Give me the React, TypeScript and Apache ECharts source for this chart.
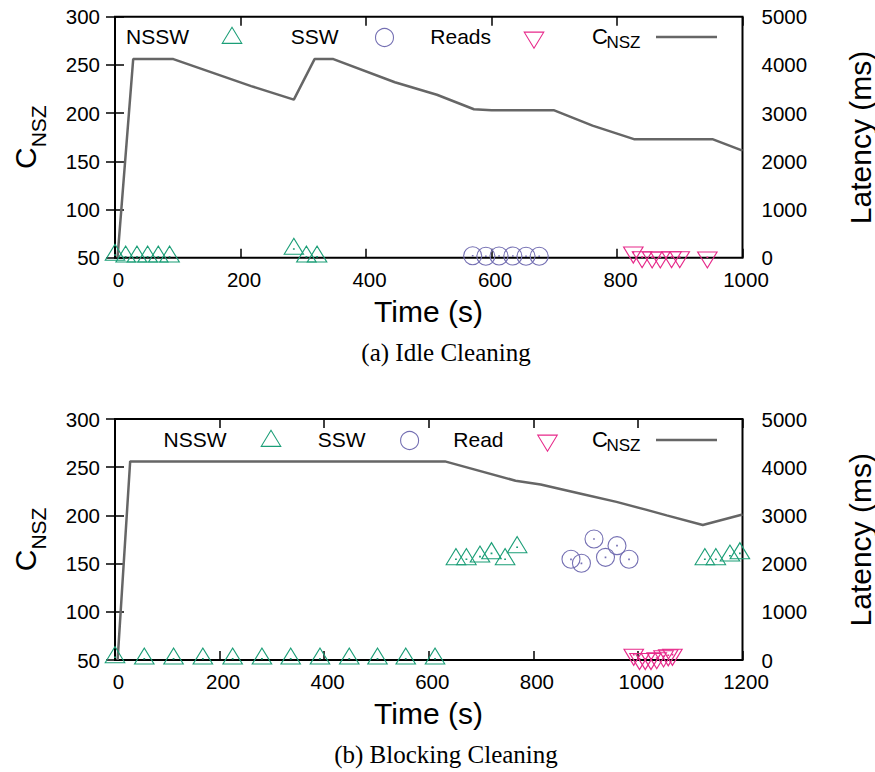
import React, { useEffect, useRef } from 'react';
import * as echarts from 'echarts';

// ---------- data ----------
// (a) Idle Cleaning
const IDLE_C_TIME = [4, 29, 93, 217, 285, 318, 348, 446, 513, 572, 600, 699, 761, 827, 952, 1000];
const IDLE_C = [50, 256, 256, 228, 214, 256, 256, 232, 219, 204, 203, 203, 187, 173, 173, 161];
const IDLE_NSSW_TIME = [0, 17, 35, 52, 69, 87, 285, 305, 322];
const IDLE_NSSW_LAT = [56, 21, 21, 21, 21, 21, 180, 21, 21];
const IDLE_SSW_TIME = [570, 591, 612, 634, 655, 676];
const IDLE_SSW_LAT = [40, 30, 35, 35, 30, 30];
const IDLE_READ_TIME = [826, 840, 856, 869, 887, 900, 944];
const IDLE_READ_LAT = [110, 15, 10, 10, 15, 15, 10];

// (b) Blocking Cleaning
const BLOCK_C_TIME = [5, 29, 631, 766, 814, 895, 959, 1015, 1055, 1124, 1200];
const BLOCK_C = [50, 256, 256, 236, 232, 222, 214, 206, 200, 190, 201];
const BLOCK_NSSW_TIME = [0, 56, 112, 168, 225, 281, 336, 392, 448, 502, 556, 612, 652, 672, 698, 720, 746, 769, 1128, 1149, 1176, 1195];
const BLOCK_NSSW_LAT = [56, 27, 27, 27, 27, 27, 27, 27, 27, 27, 27, 27, 2089, 2089, 2144, 2213, 2089, 2338, 2089, 2089, 2164, 2213];
const BLOCK_SSW_TIME = [872, 892, 916, 938, 960, 983];
const BLOCK_SSW_LAT = [2089, 2006, 2510, 2130, 2372, 2089];
const BLOCK_READ_TIME = [992, 1003, 1014, 1025, 1036, 1049, 1058, 1066];
const BLOCK_READ_LAT = [112, 23, 23, 23, 40, 79, 100, 112];

// axes
const C_RANGE = [50, 300, 50];
const LAT_RANGE = [0, 5000, 1000];
const IDLE_X_RANGE = [0, 1000, 200];
const BLOCK_X_RANGE = [0, 1200, 200];

// texts
const IDLE_LEGEND = ['NSSW', 'SSW', 'Reads'];
const BLOCK_LEGEND = ['NSSW', 'SSW', 'Read'];
const C_MAIN = 'C';
const C_SUB = 'NSZ';
const X_TITLE = 'Time (s)';
const Y2_TITLE = 'Latency (ms)';
const CAPTIONS = ['(a) Idle Cleaning', '(b) Blocking Cleaning'];

// ---------- style ----------
const FONT = '"Liberation Sans", Arial, Helvetica, sans-serif';
const SERIF = '"Liberation Serif", "Times New Roman", serif';
const GREEN = '#1b9e77';
const PURPLE = '#7570b3';
const PINK = '#e7298a';
const GRAY = '#666666';

const TW = 19.5;
const TH = 16;
const CD = 18;
const UP = `path://M0,${TH}L${TW / 2},0L${TW},${TH}Z M${TW / 2 - 0.3},${(TH * 2) / 3 - 0.3}L${TW / 2 + 0.3},${(TH * 2) / 3 - 0.3}L${TW / 2 + 0.3},${(TH * 2) / 3 + 0.3}L${TW / 2 - 0.3},${(TH * 2) / 3 + 0.3}Z`;
const DOWN = `path://M0,0L${TW},0L${TW / 2},${TH}Z M${TW / 2 - 0.3},${TH / 3 - 0.3}L${TW / 2 + 0.3},${TH / 3 - 0.3}L${TW / 2 + 0.3},${TH / 3 + 0.3}L${TW / 2 - 0.3},${TH / 3 + 0.3}Z`;
const R = CD / 2;
const CIRC = `path://M0,${R}A${R},${R},0,1,1,${CD},${R}A${R},${R},0,1,1,0,${R}Z M${R - 0.3},${R - 0.3}L${R + 0.3},${R - 0.3}L${R + 0.3},${R + 0.3}L${R - 0.3},${R + 0.3}Z`;

const zip = (a: number[], b: number[]) => a.map((v, i) => [v, b[i]]);
const plain = (v: number) => String(v);

const GRID_LEFT = 115;
const GRID_W = 627.5;
const GRID_H = 241;
const TOPS = [16.7, 419];

const tick = { show: true, inside: true, length: 9, lineStyle: { color: '#000', width: 1.5 } };

function xAxes(gridIndex: number, range: number[]) {
  return [
    {
      type: 'value', gridIndex, min: range[0], max: range[1], interval: range[2], position: 'bottom',
      axisLine: { show: false }, axisTick: tick, splitLine: { show: false },
      axisLabel: { color: '#000', fontSize: 20.5, fontFamily: FONT, margin: 11, padding: [0, 0, 0, 7], formatter: plain },
    },
    {
      type: 'value', gridIndex, min: range[0], max: range[1], interval: range[2], position: 'top',
      axisLine: { show: false }, axisTick: tick, splitLine: { show: false }, axisLabel: { show: false },
    },
  ];
}

function yAxes(gridIndex: number) {
  return [
    {
      type: 'value', gridIndex, min: C_RANGE[0], max: C_RANGE[1], interval: C_RANGE[2], position: 'left',
      axisLine: { show: false }, axisTick: tick, splitLine: { show: false },
      axisLabel: { color: '#000', fontSize: 20.5, fontFamily: FONT, margin: 15, formatter: plain },
    },
    {
      type: 'value', gridIndex, min: LAT_RANGE[0], max: LAT_RANGE[1], interval: LAT_RANGE[2], position: 'right',
      axisLine: { show: false }, axisTick: tick, splitLine: { show: false },
      axisLabel: { color: '#000', fontSize: 20.5, fontFamily: FONT, margin: 19, formatter: plain },
    },
  ];
}

function scatter(name: string, xi: number, yi: number, t: number[], v: number[], symbol: string, size: number[], offset: number[], color: string) {
  return {
    type: 'scatter', name, xAxisIndex: xi, yAxisIndex: yi, data: zip(t, v), symbol, symbolSize: size,
    symbolOffset: offset, clip: false, silent: true, z: 3,
    itemStyle: { color: 'rgba(0,0,0,0)', borderColor: color, borderWidth: 1.1, opacity: 1 },
  };
}

function line(xi: number, yi: number, t: number[], v: number[]) {
  return {
    type: 'line', name: 'C_NSZ', xAxisIndex: xi, yAxisIndex: yi, data: zip(t, v), symbol: 'none', showSymbol: false,
    silent: true, z: 2, lineStyle: { color: GRAY, width: 2.5 },
  };
}

function text(str: string, x: number, y: number, size: number, align: string, family = FONT, extra: any = {}) {
  return {
    type: 'text', x, y, silent: true, ...extra,
    style: {
      text: str, x: 0, y: 0, fill: '#000', fontSize: size, fontFamily: family,
      textAlign: align, textVerticalAlign: 'middle', align, verticalAlign: 'middle',
    },
  };
}

function upTri(cx: number, cy: number, color: string) {
  return [
    { type: 'polygon', silent: true, shape: { points: [[cx - TW / 2, cy + TH / 3], [cx + TW / 2, cy + TH / 3], [cx, cy - (2 * TH) / 3]] }, style: { fill: 'none', stroke: color, lineWidth: 1.1 } },
    { type: 'circle', silent: true, shape: { cx, cy, r: 0.5 }, style: { fill: color } },
  ];
}
function downTri(cx: number, cy: number, color: string) {
  return [
    { type: 'polygon', silent: true, shape: { points: [[cx - TW / 2, cy - TH / 3], [cx + TW / 2, cy - TH / 3], [cx, cy + (2 * TH) / 3]] }, style: { fill: 'none', stroke: color, lineWidth: 1.1 } },
    { type: 'circle', silent: true, shape: { cx, cy, r: 0.5 }, style: { fill: color } },
  ];
}
function circ(cx: number, cy: number, color: string) {
  return [
    { type: 'circle', silent: true, shape: { cx, cy, r: R }, style: { fill: 'none', stroke: color, lineWidth: 1.1 } },
    { type: 'circle', silent: true, shape: { cx, cy, r: 0.5 }, style: { fill: color } },
  ];
}

function legend(labels: string[], y: number, textRight: number[], symX: number[]) {
  return [
    text(labels[0], textRight[0], y, 21, 'right'),
    ...upTri(symX[0], y + 1.5, GREEN),
    text(labels[1], textRight[1], y, 21, 'right'),
    ...circ(symX[1], y + 1, PURPLE),
    text(labels[2], textRight[2], y, 21, 'right'),
    ...downTri(symX[2], y + 1, PINK),
    text(C_MAIN, 592, y, 22, 'left'),
    text(C_SUB, 606.5, y + 6, 17, 'left'),
    { type: 'line', silent: true, shape: { x1: 656, y1: y + 0.5, x2: 717, y2: y + 0.5 }, style: { stroke: GRAY, lineWidth: 2.5 } },
  ];
}

function titles(dy: number) {
  return [
    {
      type: 'group', x: 25, y: 169 + dy, rotation: Math.PI / 2, silent: true,
      children: [text(C_MAIN, 0, 0, 30, 'left'), text(C_SUB, 21.7, 13, 21, 'left')],
    },
    text(Y2_TITLE, 860, 137.5 + dy, 30, 'center', FONT, { rotation: Math.PI / 2 }),
    text(X_TITLE, 428.5, 311 + dy, 30, 'center'),
  ];
}

export default function App() {
  const ref = useRef<HTMLDivElement>(null);
  useEffect(() => {
    if (!ref.current) return;
    const chart = echarts.init(ref.current, undefined, { renderer: 'svg' });
    const option: any = {
      animation: false,
      backgroundColor: '#fff',
      textStyle: { fontFamily: FONT },
      grid: TOPS.map((top) => ({
        left: GRID_LEFT, top, width: GRID_W, height: GRID_H, show: true,
        borderColor: '#000', borderWidth: 2, backgroundColor: 'transparent', containLabel: false,
      })),
      xAxis: [...xAxes(0, IDLE_X_RANGE), ...xAxes(1, BLOCK_X_RANGE)],
      yAxis: [...yAxes(0), ...yAxes(1)],
      series: [
        line(0, 0, IDLE_C_TIME, IDLE_C),
        scatter('NSSW', 0, 1, IDLE_NSSW_TIME, IDLE_NSSW_LAT, UP, [TW, TH], [0, -TH / 6], GREEN),
        scatter('SSW', 0, 1, IDLE_SSW_TIME, IDLE_SSW_LAT, CIRC, [CD, CD], [0, 0], PURPLE),
        scatter('Reads', 0, 1, IDLE_READ_TIME, IDLE_READ_LAT, DOWN, [TW, TH], [0, TH / 6], PINK),
        line(2, 2, BLOCK_C_TIME, BLOCK_C),
        scatter('NSSW', 2, 3, BLOCK_NSSW_TIME, BLOCK_NSSW_LAT, UP, [TW, TH], [0, -TH / 6], GREEN),
        scatter('SSW', 2, 3, BLOCK_SSW_TIME, BLOCK_SSW_LAT, CIRC, [CD, CD], [0, 0], PURPLE),
        scatter('Read', 2, 3, BLOCK_READ_TIME, BLOCK_READ_LAT, DOWN, [TW, TH], [0, TH / 6], PINK),
      ],
      graphic: [
        ...legend(IDLE_LEGEND, 36.5, [189, 338.5, 491], [232, 384.5, 534]),
        ...legend(BLOCK_LEGEND, 439.5, [226.5, 365.5, 503.5], [271, 409.6, 547.5]),
        ...titles(0),
        ...titles(402.3),
        text(CAPTIONS[0], 446, 352.3, 25, 'center', SERIF),
        text(CAPTIONS[1], 446, 754.6, 25, 'center', SERIF),
      ],
    };
    chart.setOption(option);
    return () => chart.dispose();
  }, []);
  return (
    <div
      ref={ref}
      style={{ position: 'fixed', left: 0, top: 0, width: 875, height: 772, background: '#fff' }}
    />
  );
}
